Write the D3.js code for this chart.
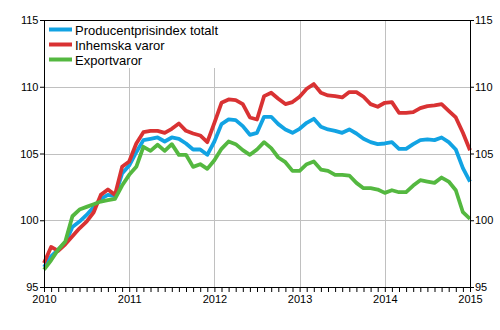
<!DOCTYPE html>
<html>
<head>
<meta charset="utf-8">
<script src="https://cdn.jsdelivr.net/npm/d3@7"></script>
<style>
  html, body { margin: 0; padding: 0; background: #fff; }
  svg { display: block; font-family: "Liberation Sans", Arial, sans-serif; }
</style>
</head>
<body>
<svg id="chart" width="500" height="330"></svg>
<script>
// ---- Data (monthly, Jan 2010 .. Jan 2015) ----
const startYear = 2010;
const yearLabels = ["2010", "2011", "2012", "2013", "2014", "2015"];
const yTicks = [95, 100, 105, 110, 115];
const seriesNames = ["Producentprisindex totalt", "Inhemska varor", "Exportvaror"];

const totalt = [
  96.5, 97.3, 97.8, 98.3, 99.5, 99.9, 100.4, 101.0, 101.6, 101.9, 101.8, 103.5,
  104.1, 105.1, 106.0, 106.1, 106.2, 105.9, 106.2, 106.1, 105.75, 105.3, 105.3, 104.9,
  105.9, 107.2, 107.55, 107.5, 107.05, 106.4, 106.55, 107.75, 107.75, 107.2, 106.8, 106.55,
  106.85, 107.3, 107.6, 107.0, 106.8, 106.7, 106.55, 106.8, 106.5, 106.1, 105.85, 105.7,
  105.75, 105.85, 105.35, 105.35, 105.7, 106.0, 106.05, 106.0, 106.2, 105.85, 105.3, 103.9,
  102.9
];
const inhemska = [
  96.8, 98.0, 97.7, 98.2, 98.8, 99.4, 99.9, 100.6, 101.9, 102.3, 101.9, 104.0,
  104.4, 105.75, 106.6, 106.7, 106.7, 106.55, 106.85, 107.25, 106.7, 106.5, 106.35, 105.85,
  107.3, 108.8, 109.05, 109.0, 108.7, 107.7, 107.55, 109.3, 109.55, 109.1, 108.7, 108.85,
  109.25, 109.85, 110.2, 109.55, 109.35, 109.3, 109.2, 109.6, 109.6, 109.25, 108.7, 108.5,
  108.8, 108.85, 108.05, 108.05, 108.1, 108.4, 108.55, 108.6, 108.7, 108.2, 107.7, 106.55,
  105.25
];
const exportvaror = [
  96.3, 97.0, 97.8, 98.4, 100.3, 100.8, 101.0, 101.2, 101.4, 101.5, 101.6, 102.6,
  103.4, 104.0, 105.5, 105.2, 105.65, 105.2, 105.7, 104.9, 104.9, 104.0, 104.2, 103.85,
  104.5, 105.35, 105.9, 105.7, 105.25, 104.9, 105.3, 105.85, 105.4, 104.7, 104.35, 103.7,
  103.7, 104.2, 104.4, 103.8, 103.7, 103.4, 103.4, 103.35, 102.8, 102.4, 102.4, 102.3,
  102.05, 102.25, 102.1, 102.1, 102.6, 103.0, 102.9, 102.8, 103.2, 102.9, 102.25, 100.6,
  100.1
];
const colors = ["#12a3e3", "#d93233", "#54b840"];

// ---- Layout ----
const svg = d3.select("#chart");
const pLeft = 44, pRight = 470, pTop = 20, pBottom = 287;

const x = d3.scaleLinear().domain([2010, 2015]).range([pLeft, pRight]);
const y = d3.scaleLinear().domain([95, 115]).range([pBottom, pTop]);
const tOf = i => startYear + i / 12;

// gridlines
const grid = svg.append("g");
grid.selectAll("line.h").data([100, 105, 110]).join("line")
  .attr("x1", pLeft).attr("x2", pRight)
  .attr("y1", d => Math.round(y(d)) + 0.5).attr("y2", d => Math.round(y(d)) + 0.5)
  .attr("stroke", "#c0c0c0").attr("stroke-width", 1);
grid.selectAll("line.v").data([2011, 2012, 2013, 2014]).join("line")
  .attr("x1", d => Math.round(x(d)) + 0.5).attr("x2", d => Math.round(x(d)) + 0.5)
  .attr("y1", pTop).attr("y2", pBottom)
  .attr("stroke", "#c0c0c0").attr("stroke-width", 1);

// legend background
svg.append("rect").attr("x", pLeft + 1).attr("y", pTop + 1).attr("width", 176).attr("height", 47).attr("fill", "#fff");

// lines
const line = d3.line().x((d, i) => x(tOf(i))).y(d => y(d));
[totalt, inhemska, exportvaror].forEach((s, k) => {
  svg.append("path").datum(s)
    .attr("d", line)
    .attr("fill", "none")
    .attr("stroke", colors[k])
    .attr("stroke-width", 3.8)
    .attr("stroke-linejoin", "round")
    .attr("stroke-linecap", "butt");
});

// frame / axes
const fontFam = "Liberation Sans, Arial, sans-serif";
const monthTicks = d3.range(61).map(tOf);
const xAxisMinor = d3.axisBottom(x).tickValues(monthTicks).tickFormat("").tickSize(5).tickSizeOuter(0);
svg.append("g").attr("transform", `translate(0,${pBottom})`).call(xAxisMinor)
  .call(g => g.selectAll("line").attr("stroke", "#000"))
  .call(g => g.select(".domain").attr("stroke", "#000"));
const xAxisLabels = d3.axisBottom(x).tickValues(yearLabels.map(Number)).tickFormat((d, i) => yearLabels[i])
  .tickSize(0).tickPadding(8);
svg.append("g").attr("transform", `translate(0,${pBottom})`).call(xAxisLabels)
  .call(g => g.select(".domain").remove())
  .call(g => g.selectAll("text").attr("font-size", 11).attr("font-family", fontFam).attr("fill", "#000"));

const yLeft = d3.axisLeft(y).tickValues(yTicks).tickFormat(d3.format("d")).tickSize(4).tickSizeOuter(0).tickPadding(1.5);
svg.append("g").attr("transform", `translate(${pLeft},0)`).call(yLeft)
  .call(g => g.selectAll("line").attr("stroke", "#000"))
  .call(g => g.select(".domain").attr("stroke", "#000"))
  .call(g => g.selectAll("text").attr("font-size", 11).attr("font-family", fontFam).attr("fill", "#000"));
const yRight = d3.axisRight(y).tickValues(yTicks).tickFormat(d3.format("d")).tickSize(4).tickSizeOuter(0).tickPadding(1);
svg.append("g").attr("transform", `translate(${pRight},0)`).call(yRight)
  .call(g => g.selectAll("line").attr("stroke", "#000"))
  .call(g => g.select(".domain").attr("stroke", "#000"))
  .call(g => g.selectAll("text").attr("font-size", 11).attr("font-family", fontFam).attr("fill", "#000"));
svg.append("line").attr("x1", pLeft).attr("x2", pRight + 1).attr("y1", pTop + 0.5).attr("y2", pTop + 0.5).attr("stroke", "#000");

// legend
const lg = svg.append("g");
seriesNames.forEach((name, k) => {
  const cy = 29.5 + k * 15;
  lg.append("line").attr("x1", 49).attr("x2", 72).attr("y1", cy).attr("y2", cy)
    .attr("stroke", colors[k]).attr("stroke-width", 4);
  lg.append("text").attr("x", 75).attr("y", cy + 5).attr("font-size", 13)
    .attr("fill", "#000").text(name);
});
</script>
</body>
</html>
